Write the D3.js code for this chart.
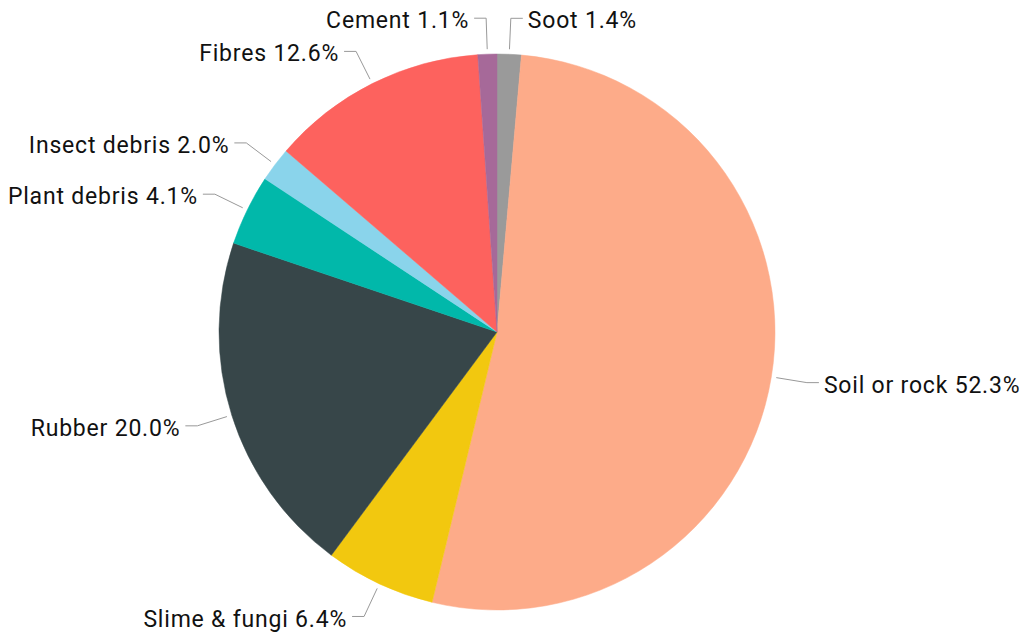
<!DOCTYPE html>
<html>
<head>
<meta charset="utf-8">
<script src="https://cdn.jsdelivr.net/npm/d3@7"></script>
<style>
  body { margin: 0; background: #fff; }
  text { font-family: Roboto, "DejaVu Sans", sans-serif; font-size: 23px; letter-spacing: 0.8px; fill: #111; }
</style>
</head>
<body>
<script>
const categories = ['Soot', 'Soil or rock', 'Slime & fungi', 'Rubber', 'Plant debris', 'Insect debris', 'Fibres', 'Cement'];
const shares = [1.4, 52.3, 6.4, 20.0, 4.1, 2.0, 12.6, 1.1];
const colours = ['#9a9a9a', '#fdab89', '#f2c80f', '#374649', '#01b8aa', '#8ad4eb', '#fd625e', '#a66999'];

const width = 1024;
const height = 634;
const cx = 497;
const cy = 332;
const radius = 278;

const data = categories.map((c, i) => ({ name: c, value: shares[i], colour: colours[i] }));

const svg = d3.select('body').append('svg')
  .attr('width', width)
  .attr('height', height);

const g = svg.append('g').attr('transform', `translate(${cx},${cy})`);

const pie = d3.pie().sort(null).value((d) => d.value);
const arc = d3.arc().innerRadius(0).outerRadius(radius);
const arcs = pie(data);

g.selectAll('path.slice')
  .data(arcs)
  .enter()
  .append('path')
  .classed('slice', true)
  .attr('d', arc)
  .style('fill', (d) => d.data.colour)
  .style('stroke', (d) => d.data.colour)
  .style('stroke-width', 0.5);

// leader lines + labels
const inner = d3.arc().innerRadius(radius + 5).outerRadius(radius + 5);
const elbow = d3.arc().innerRadius(radius + 36).outerRadius(radius + 36);
const mid = (d) => (d.startAngle + d.endAngle) / 2;
const side = (d) => (mid(d) < Math.PI ? 1 : -1);

g.selectAll('polyline.leader')
  .data(arcs)
  .enter()
  .append('polyline')
  .classed('leader', true)
  .attr('points', (d) => {
    const a = inner.centroid(d);
    const b = elbow.centroid(d);
    const c = [b[0] + side(d) * 12, b[1]];
    return [a, b, c].map((p) => p.join(',')).join(' ');
  })
  .style('fill', 'none')
  .style('stroke', '#999')
  .style('stroke-width', 1);

g.selectAll('text.label')
  .data(arcs)
  .enter()
  .append('text')
  .classed('label', true)
  .attr('x', (d) => elbow.centroid(d)[0] + side(d) * 17)
  .attr('y', (d) => elbow.centroid(d)[1] + 2)
  .attr('dy', '0.35em')
  .attr('text-anchor', (d) => (side(d) > 0 ? 'start' : 'end'))
  .text((d) => `${d.data.name} ${d.data.value.toFixed(1)}%`);
</script>
</body>
</html>
